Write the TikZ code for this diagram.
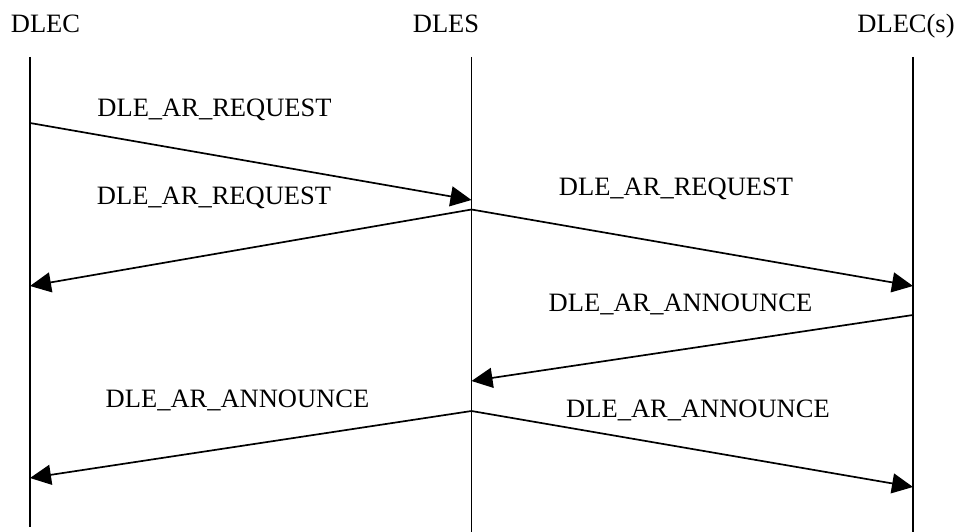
\documentclass[tikz,border=0pt]{standalone}
\usepackage{fontspec}
\setmainfont{Liberation Serif}
\usetikzlibrary{arrows.meta}
\tikzset{
  lifeline/.style={line width=1.7pt},
  msg/.style={line width=1.7pt,-{Triangle[length=21pt,width=20pt]}},
  lbl/.style={font=\fontsize{26.5}{29}\selectfont,inner sep=0pt,anchor=base}
}
\begin{document}
\begin{tikzpicture}[x=1pt,y=-1pt]
\useasboundingbox (0,0) rectangle (954,532);
% headers
\node[lbl] (hA) at (45.5,33) {DLEC};
\node[lbl] (hB) at (446,33) {DLES};
\node[lbl] (hC) at (906,33) {DLEC(s)};
% lifelines
\coordinate (aT) at (30,57);   \coordinate (aB) at (30,527);
\coordinate (bT) at (471.5,57); \coordinate (bB) at (471.5,532);
\coordinate (cT) at (913,57);  \coordinate (cB) at (913,532);
\draw[lifeline] (aT) -- (aB);
\draw[lifeline] (bT) -- (bB);
\draw[lifeline] (cT) -- (cB);
% message endpoints
\coordinate (a1) at (30,123);
\coordinate (b1) at (471.5,200);
\coordinate (b2) at (471.5,209.5);
\coordinate (a2) at (30,286);
\coordinate (c2) at (913,286);
\coordinate (c3) at (913,315);
\coordinate (b3) at (471.5,381);
\coordinate (b4) at (471.5,411);
\coordinate (a4) at (30,478);
\coordinate (c4) at (913,487);
% messages
\draw[msg] (a1) -- (b1);
\draw[msg] (b2) -- (a2);
\draw[msg] (b2) -- (c2);
\draw[msg] (c3) -- (b3);
\draw[msg] (b4) -- (a4);
\draw[msg] (b4) -- (c4);
% labels
\node[lbl] (l1) at (214.5,117) {DLE\_AR\_REQUEST};
\node[lbl] (l2) at (214,205) {DLE\_AR\_REQUEST};
\node[lbl] (l3) at (676,196) {DLE\_AR\_REQUEST};
\node[lbl] (l4) at (680.5,311) {DLE\_AR\_ANNOUNCE};
\node[lbl] (l5) at (237.5,407) {DLE\_AR\_ANNOUNCE};
\node[lbl] (l6) at (698,417) {DLE\_AR\_ANNOUNCE};
\end{tikzpicture}
\end{document}
